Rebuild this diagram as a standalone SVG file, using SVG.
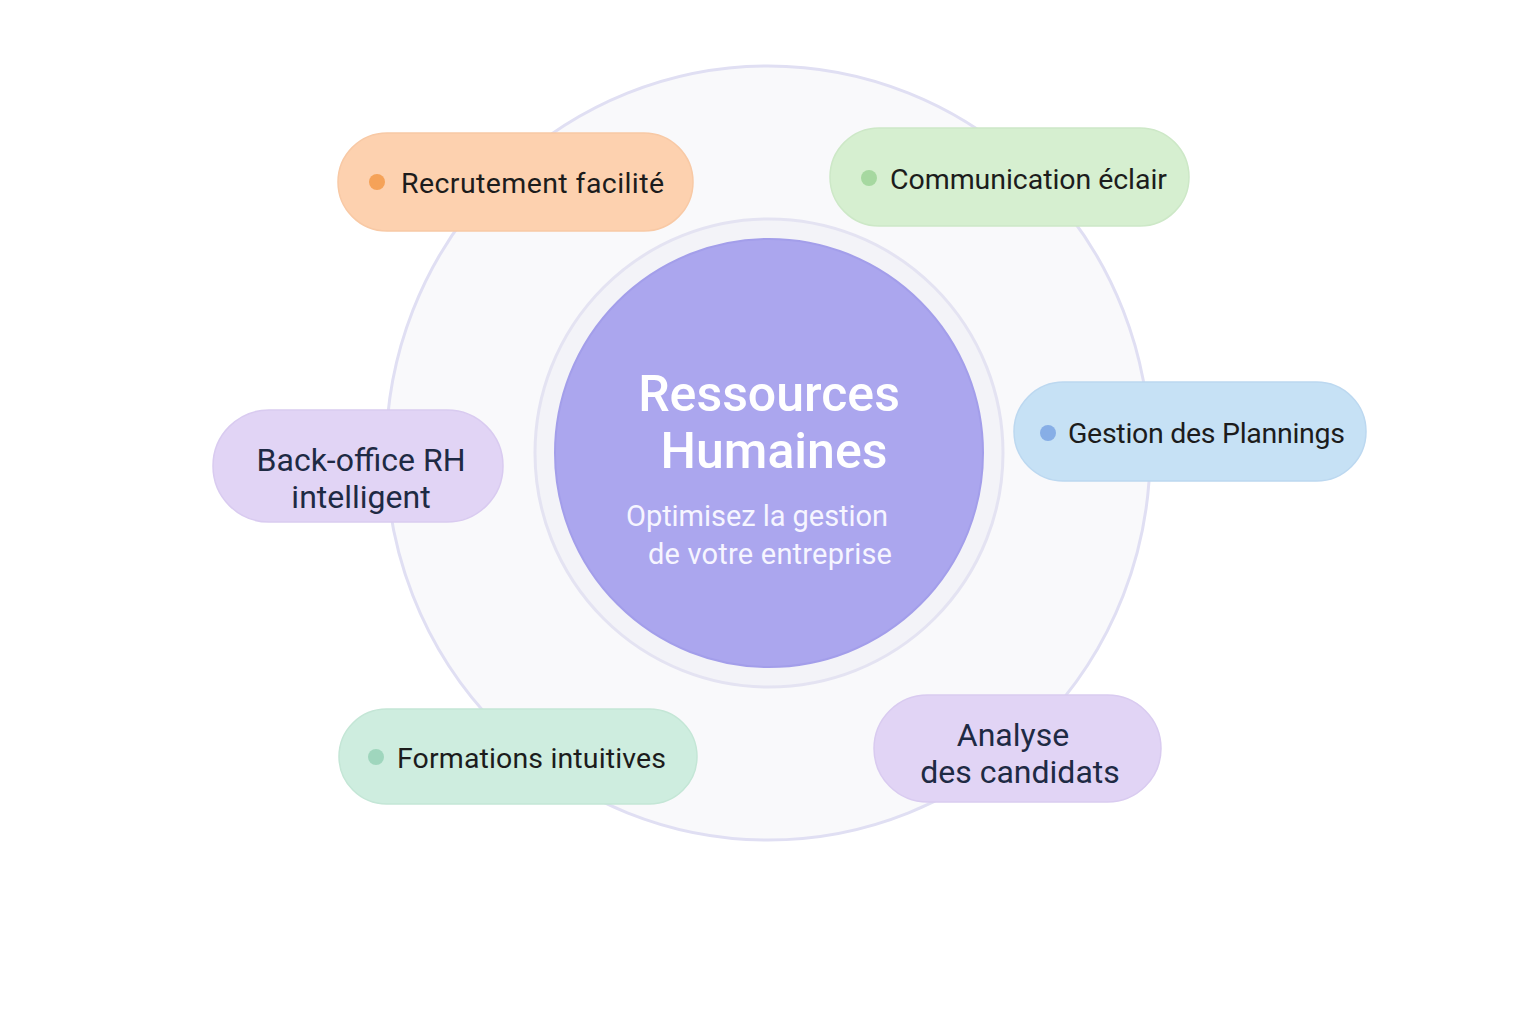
<svg xmlns="http://www.w3.org/2000/svg" width="1536" height="1024" viewBox="0 0 1536 1024">
<style>
.pill-text{font-family:Roboto,"Liberation Sans",sans-serif;font-size:28.5px;fill:#1c1c1c}
.pill-text2{font-family:Roboto,"Liberation Sans",sans-serif;font-size:32px;fill:#1e2a44;text-anchor:middle}
.title{font-family:Roboto,"Liberation Sans",sans-serif;font-size:50px;font-weight:500;fill:#ffffff;text-anchor:middle}
.sub{font-family:Roboto,"Liberation Sans",sans-serif;font-size:29px;fill:#f6f5ff;text-anchor:middle}
</style>
<rect width="1536" height="1024" fill="#ffffff"/>
<g id="backdrop">
<ellipse cx="768" cy="453" rx="382" ry="387" fill="#f9f9fb" stroke="#e0dff3" stroke-width="3"/>
<circle cx="769" cy="453" r="234" fill="#f3f3f8" stroke="#e4e3f2" stroke-width="3"/>
</g>
<g id="connectors"></g>
<g id="center">
<circle cx="769" cy="453" r="214" fill="#aba6ee" stroke="#a39eea" stroke-width="2"/>
<text class="title" x="769" y="411">Ressources</text>
<text class="title" x="774" y="468">Humaines</text>
<text class="sub" x="757" y="526" textLength="262" lengthAdjust="spacing">Optimisez la gestion</text>
<text class="sub" x="770" y="564" textLength="244" lengthAdjust="spacing">de votre entreprise</text>
</g>
<g id="recrutement">
<rect x="338" y="133" width="355" height="98" rx="49" fill="#fdd1af" stroke="#f8c9a5" stroke-width="1.5"/>
<circle cx="377" cy="182" r="8" fill="#f5a258"/>
<text class="pill-text" x="401" y="193" textLength="263" lengthAdjust="spacing">Recrutement facilité</text>
</g>
<g id="communication">
<rect x="830" y="128" width="359" height="98" rx="49" fill="#d6efd0" stroke="#cde8c7" stroke-width="1.5"/>
<circle cx="869" cy="178" r="8" fill="#a6d8a0"/>
<text class="pill-text" x="890" y="189" textLength="277" lengthAdjust="spacing">Communication éclair</text>
</g>
<g id="plannings">
<rect x="1014" y="382" width="352" height="99" rx="49.5" fill="#c6e1f5" stroke="#bcd8f0" stroke-width="1.5"/>
<circle cx="1048" cy="433" r="8" fill="#87aee6"/>
<text class="pill-text" x="1068" y="443" textLength="277" lengthAdjust="spacing">Gestion des Plannings</text>
</g>
<g id="backoffice">
<rect x="213" y="410" width="290" height="112" rx="56" fill="#e1d4f5" stroke="#d9cbf0" stroke-width="1.5"/>
<text class="pill-text2" x="361" y="471">Back-office RH</text>
<text class="pill-text2" x="361" y="508">intelligent</text>
</g>
<g id="formations">
<rect x="339" y="709" width="358" height="95" rx="47.5" fill="#ceeddf" stroke="#c4e6d6" stroke-width="1.5"/>
<circle cx="376" cy="757" r="8" fill="#9fd6bd"/>
<text class="pill-text" x="397" y="768" textLength="269" lengthAdjust="spacing">Formations intuitives</text>
</g>
<g id="analyse">
<rect x="874" y="695" width="287" height="107" rx="53.5" fill="#e1d4f5" stroke="#d9cbf0" stroke-width="1.5"/>
<text class="pill-text2" x="1013" y="746">Analyse</text>
<text class="pill-text2" x="1020" y="783">des candidats</text>
</g>
</svg>
